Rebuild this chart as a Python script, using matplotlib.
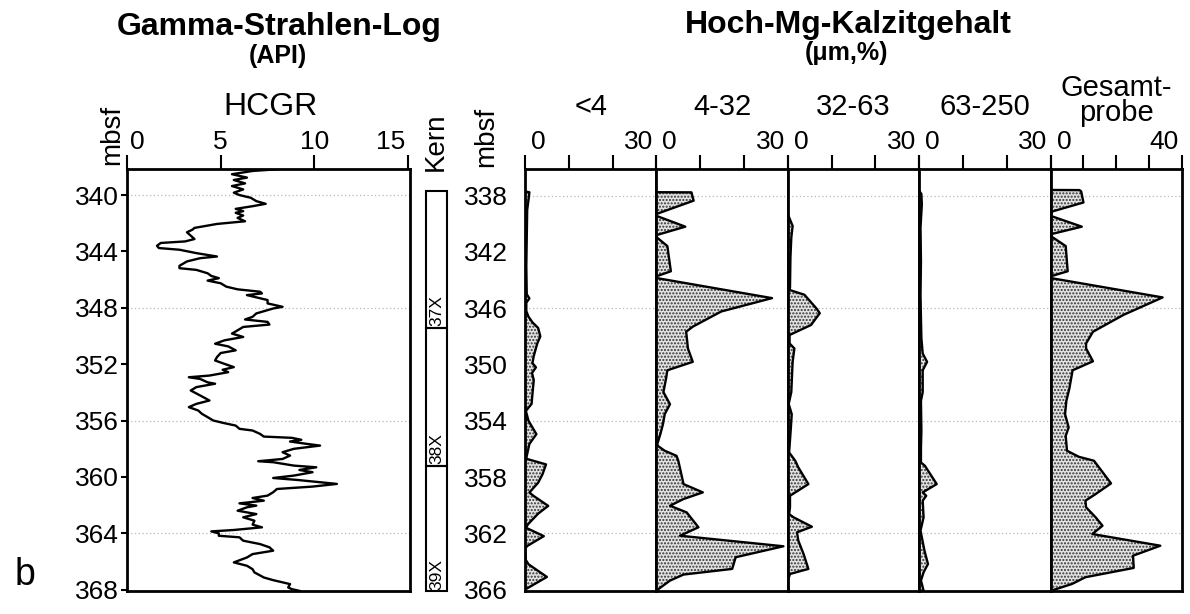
import numpy as np
import matplotlib
matplotlib.use('Agg')
import matplotlib.pyplot as plt
from matplotlib.patches import Rectangle
from matplotlib.transforms import ScaledTranslation

plt.rcParams['font.family'] = ['Liberation Sans', 'DejaVu Sans']
plt.rcParams['hatch.linewidth'] = 1.0

# Gamma-Strahlen-Log (HCGR, API) gegen Tiefe (mbsf)
gr_tiefe = [338.17, 338.29, 338.52, 338.76, 338.93, 339.17, 339.36, 339.60, 339.83, 340.00,
            340.19, 340.43, 340.62, 340.79, 340.98, 341.14, 341.26, 341.45, 341.62, 341.86,
            342.05, 342.33, 342.45, 342.64, 342.88, 343.12, 343.29, 343.40, 343.60, 343.76,
            343.88, 344.12, 344.36, 344.48, 344.71, 345.02, 345.19, 345.31, 345.55, 345.74,
            345.90, 346.07, 346.26, 346.50, 346.69, 346.86, 346.98, 347.10, 347.26, 347.45,
            347.69, 347.93, 348.05, 348.40, 348.64, 348.83, 349.00, 349.19, 349.36, 349.60,
            349.83, 350.07, 350.31, 350.55, 350.74, 351.02, 351.21, 351.50, 351.74, 351.98,
            352.21, 352.40, 352.57, 352.81, 352.93, 353.05, 353.29,
            353.39, 353.63, 353.87, 354.22, 354.58, 354.82, 355.05, 355.29, 355.53, 355.76,
            356.00, 356.19, 356.36, 356.59, 356.71, 356.95, 357.14, 357.23, 357.37, 357.49,
            357.66, 357.78, 358.01, 358.25, 358.49, 358.73, 358.89, 358.96, 359.20, 359.32,
            359.51, 359.67, 359.91, 360.08, 360.22, 360.50, 360.69, 360.86, 361.09, 361.33,
            361.50, 361.69, 361.88, 362.04, 362.16, 362.40, 362.64, 362.87, 363.11, 363.39,
            363.58, 363.77, 363.87, 364.01, 364.18, 364.29, 364.53, 364.77, 365.00, 365.24,
            365.48, 365.72, 366.07, 366.31, 366.55, 366.78, 367.14, 367.33, 367.49, 367.61,
            367.85, 367.97, 368.09]
gr_wert = [8.0, 6.7, 5.6, 6.4, 5.7, 6.3, 5.6, 6.2, 5.7, 6.0,
           6.6, 6.9, 7.4, 6.7, 5.8, 6.2, 5.8, 6.2, 5.9, 6.3,
           4.8, 3.6, 3.5, 3.2, 3.4, 3.6, 3.1, 1.8, 1.6, 1.7,
           2.8, 3.7, 4.8, 3.9, 3.2, 2.8, 2.8, 3.7, 4.3, 4.5,
           4.9, 4.3, 5.0, 5.3, 5.9, 7.1, 7.2, 6.4, 6.9, 7.5,
           7.5, 8.3, 7.8, 6.9, 6.7, 6.3, 7.5, 7.6, 6.2, 5.9,
           5.6, 6.2, 5.2, 4.7, 5.4, 5.8, 5.0, 4.8, 4.7, 5.2,
           5.7, 5.1, 5.4, 4.4, 3.3, 3.9, 4.3,
           4.7, 3.7, 3.4, 3.9, 4.4, 3.7, 3.3, 3.8, 4.0, 4.3,
           4.6, 5.2, 5.8, 6.0, 6.7, 7.1, 7.3, 8.8, 9.3, 8.7,
           9.6, 10.3, 8.9, 8.3, 8.7, 8.3, 7.0, 7.8, 8.9, 10.1,
           9.2, 9.9, 8.9, 7.8, 9.1, 11.2, 9.9, 8.0, 7.8, 7.5,
           6.7, 7.3, 6.0, 6.9, 6.4, 5.9, 6.9, 6.2, 6.8, 6.7,
           7.2, 5.7, 4.5, 4.9, 4.9, 6.0, 6.2, 7.1, 7.6, 7.8,
           6.7, 6.4, 5.7, 6.4, 6.7, 6.8, 7.3, 7.8, 8.3, 8.7,
           8.6, 8.8, 9.2]

# Kernstrecken
kern_namen = ['37X', '38X', '39X']
kern_oben = [339.7, 349.4, 359.2]
kern_unten = [349.4, 359.2, 368.1]

# Hoch-Mg-Kalzitgehalt (%) je Fraktion
t_lt4 = [337.7, 337.75, 338.3, 339.0, 341.0, 343.0, 345.0, 345.3, 345.6, 346.2,
         346.6, 347.0, 347.4, 348.0, 348.5, 349.4, 349.9, 350.2, 350.6, 351.1,
         352.1, 352.8, 353.3, 354.0, 354.95, 355.65, 356.5, 356.7, 357.1, 357.8,
         358.4, 359.1, 359.35, 360.05, 360.6, 361.35, 361.6, 362.2, 362.9, 363.1,
         363.9, 364.2, 365.1, 366.0]
w_lt4 = [0, 1.0, 0.8, 0.5, 0.4, 0.3, 0.4, 1.0, 0.3, 0.3,
         0.8, 1.7, 3.0, 3.5, 2.8, 2.0, 1.7, 2.5, 1.6, 2.0,
         1.7, 1.5, 0.2, 0.8, 2.6, 1.0, 0.4, 0.3, 4.8, 4.0,
         3.0, 1.0, 2.0, 5.3, 3.0, 0.7, 0.2, 4.3, 0.5, 0.0,
         0.2, 0.8, 5.0, 0.0]

t_4_32 = [337.75, 337.76, 338.35, 339.3, 339.43, 340.2, 340.8, 340.94, 341.58, 343.37,
          343.73, 343.85, 345.28, 346.23, 347.31, 347.67, 348.86, 349.81, 350.41, 351.01,
          351.96, 352.82, 353.53, 354.24, 354.95, 355.66, 355.8, 356.13, 356.49, 356.84,
          358.5, 359.09, 359.56, 360.04, 360.51, 361.57, 362.17, 362.92, 363.7, 364.53,
          364.93, 365.36, 366.07]
w_4_32 = [0, 8.0, 8.5, 0, 0, 6.6, 0, 0, 2.5, 3.3,
          0, 0, 26.4, 14.8, 8.3, 6.8, 7.2, 8.3, 2.5, 2.2,
          1.6, 3.1, 1.9, 1.5, 0.9, 0.2, 0.4, 1.9, 4.6, 5.0,
          6.2, 10.6, 6.2, 3.1, 6.9, 9.6, 5.4, 29.0, 18.1, 17.3,
          6.2, 3.1, 0]

t_32_63 = [339.31, 340.15, 340.98, 342.4, 344.56, 344.68, 345.04, 346.0, 346.35, 347.19,
           347.9, 348.5, 348.86, 349.81, 351.96, 352.8, 353.53, 354.5, 356.25, 356.84,
           357.31, 358.5, 359.33, 360.15, 360.63, 360.86, 361.53, 361.93, 362.52, 363.47,
           364.53, 364.89, 365.36, 366.07]
w_32_63 = [0, 1.1, 0.8, 0.6, 0.5, 0.2, 3.8, 6.5, 7.3, 5.3,
           0.4, 0.4, 1.5, 1.1, 0.8, 0.2, 0.9, 0.7, 0.3, 1.7,
           2.4, 4.7, 0.5, 0.5, 0.3, 1.3, 5.5, 2.1, 2.4, 3.6,
           4.7, 0.5, 0, 0.2]

t_63_250 = [337.64, 337.88, 338.6, 340.27, 342.65, 345.04, 346.71, 348.14, 349.22, 349.81,
            350.41, 351.96, 352.58, 354.71, 355.89, 356.96, 357.2, 358.5, 359.09, 359.33,
            359.68, 360.86, 361.81, 363.23, 364.18, 364.77, 365.36, 366.07]
w_63_250 = [0, 0.5, 0.6, 0.3, 0.4, 0.3, 0.4, 0.5, 0.8, 1.8,
            0.8, 0.8, 0.4, 0.5, 0.4, 0.4, 1.3, 4.0, 0.8, 1.6,
            0.8, 1.0, 0.3, 1.2, 2.0, 1.0, 0.4, 1.0]

t_gesamt = [337.59, 337.6, 337.69, 338.48, 339.12, 339.43, 340.2, 340.74, 340.86, 341.58,
            343.37, 343.73, 343.85, 345.23, 346.47, 347.67, 348.5, 348.86, 349.77, 350.41,
            351.72, 352.58, 353.53, 354.47, 355.07, 356.13, 356.56, 356.84, 358.45, 359.21,
            359.68, 360.15, 360.86, 361.46, 362.05, 362.88, 363.59, 364.46, 365.12, 365.6,
            366.07]
w_gesamt = [0, 8.8, 9.3, 10.0, 0.5, 0, 9.5, 0, 0, 4.6,
            5.2, 0, 0, 34.1, 22.2, 12.9, 10.8, 10.8, 12.9, 6.7,
            5.7, 4.8, 4.4, 5.5, 4.6, 5.0, 8.6, 13.2, 18.4, 13.7,
            10.6, 10.8, 13.7, 15.8, 12.7, 33.4, 25.1, 25.3, 10.6, 6.5,
            0.3]

fraktionen = ['<4', '4-32', '32-63', '63-250', 'Gesamt-\nprobe']
achsen_max = [30, 30, 30, 30, 40]
profile = [(t_lt4, w_lt4), (t_4_32, w_4_32), (t_32_63, w_32_63),
           (t_63_250, w_63_250), (t_gesamt, w_gesamt)]

fig = plt.figure(figsize=(11.9, 6.14), dpi=100)
unten, hoehe = 1 - 591 / 614, (591 - 169) / 614
gitter = dict(color='#b8b8b8', lw=0.9, ls=(0, (1, 2)), zorder=0)
TICK = 19


def rahmen(ax):
    for s in ax.spines.values():
        s.set_linewidth(2)


def verschieben(lab, dx_px):
    lab.set_transform(lab.get_transform() + ScaledTranslation(dx_px / 100, 0, fig.dpi_scale_trans))


# Gamma-Log
ax = fig.add_axes([127 / 1190, unten, 283 / 1190, hoehe])
ax.plot(gr_wert, gr_tiefe, color='black', lw=1.7)
ax.set_xlim(0, 15.1)
ax.set_ylim(368.1, 338.15)
ax.xaxis.tick_top()
ax.set_xticks([0, 5, 10, 15])
ax.set_yticks(np.arange(340, 369, 4))
ax.tick_params(axis='x', direction='out', length=10, width=1.5, pad=1, labelsize=TICK)
ax.tick_params(axis='y', length=4, width=1.5, pad=2, labelsize=TICK)
labs = ax.get_xticklabels()
labs[0].set_ha('left')
verschieben(labs[0], 3)
labs[-1].set_ha('right')
verschieben(labs[-1], -3)
for d in range(340, 369, 8):
    ax.axhline(d, **gitter)
rahmen(ax)

# Kern-Spalte
axk = fig.add_axes([426 / 1190, unten, 21 / 1190, hoehe])
axk.set_xlim(0, 1)
axk.set_ylim(368.1, 338.15)
axk.axis('off')
for name, o, u in zip(kern_namen, kern_oben, kern_unten):
    axk.add_patch(Rectangle((0, o), 1, u - o, fill=False, lw=1.5, clip_on=False))
    axk.text(0.5, u - 0.1, name, rotation=90, ha='center', va='bottom', fontsize=12.5)

# Hoch-Mg-Kalzit-Spalten
breite = 131.4 / 1190
for i, ((t, w), name, xm) in enumerate(zip(profile, fraktionen, achsen_max)):
    ax = fig.add_axes([525 / 1190 + i * breite, unten, breite, hoehe])
    ax.fill_betweenx(t, 0, w, facecolor='#e2e2e2', edgecolor='#333333',
                     hatch='.....', linewidth=0, zorder=2)
    ax.plot(w, t, color='black', lw=1.7, zorder=3)
    ax.set_xlim(0, xm)
    ax.set_ylim(366.1, 336.1)
    ax.xaxis.tick_top()
    ticks = np.arange(0, xm + 1, 10)
    ax.set_xticks(ticks)
    ax.set_xticklabels(['0'] + [''] * (len(ticks) - 2) + [str(xm)])
    ax.tick_params(axis='x', direction='out', length=10, width=1.5, pad=1, labelsize=TICK)
    labs = ax.get_xticklabels()
    labs[0].set_ha('left')
    verschieben(labs[0], 6)
    labs[-1].set_ha('right')
    verschieben(labs[-1], -3)
    ax.set_yticks(np.arange(338, 367, 4))
    if i == 0:
        ax.tick_params(axis='y', length=0, pad=12, labelsize=TICK)
    else:
        ax.tick_params(axis='y', length=0, labelleft=False)
    for d in range(338, 367, 8):
        ax.axhline(d, **gitter)
    rahmen(ax)
    xm_fig = 525 / 1190 + (i + 0.5) * breite
    if '\n' in name:
        fig.text(xm_fig, 1 - 121 / 614, name, ha='center', va='baseline', fontsize=21,
                 linespacing=0.85, multialignment='center')
    else:
        fig.text(xm_fig, 1 - 115 / 614, name, ha='center', va='baseline', fontsize=21)

# Beschriftungen
fig.text(279 / 1190, 1 - 35 / 614, 'Gamma-Strahlen-Log', ha='center', va='baseline',
         fontsize=23, weight='bold')
fig.text(278 / 1190, 1 - 63 / 614, '(API)', ha='center', va='baseline', fontsize=18, weight='bold')
fig.text(270 / 1190, 1 - 115 / 614, 'HCGR', ha='center', va='baseline', fontsize=23)
fig.text(848 / 1190, 1 - 33 / 614, 'Hoch-Mg-Kalzitgehalt', ha='center', va='baseline',
         fontsize=23, weight='bold')
fig.text(847 / 1190, 1 - 60 / 614, '(μm,%)', ha='center', va='baseline', fontsize=18, weight='bold')
fig.text(112 / 1190, 1 - 135 / 614, 'mbsf', rotation=90, ha='center', va='center', fontsize=20)
fig.text(486 / 1190, 1 - 137 / 614, 'mbsf', rotation=90, ha='center', va='center', fontsize=20)
fig.text(436 / 1190, 1 - 142 / 614, 'Kern', rotation=90, ha='center', va='center', fontsize=20)
fig.text(25 / 1190, 1 - 575 / 614, 'b', ha='center', va='center', fontsize=27)

fig.savefig('out.png', dpi=100)
